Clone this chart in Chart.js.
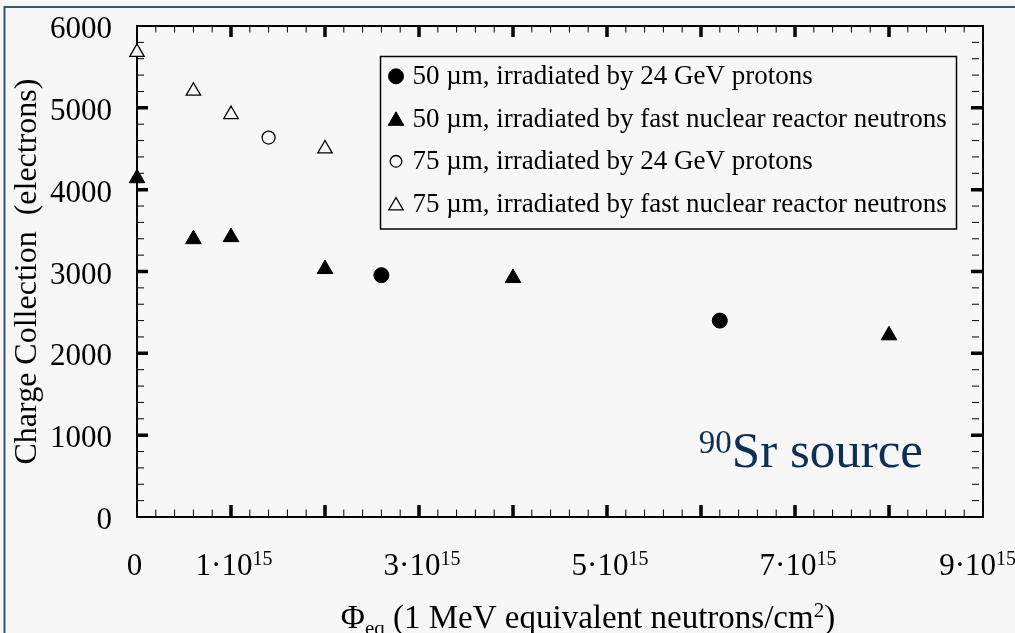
<!DOCTYPE html>
<html>
<head>
<meta charset="utf-8">
<script src="https://cdn.jsdelivr.net/npm/chart.js@4.4.1/dist/chart.umd.min.js"></script>
<style>
  html, body { margin: 0; padding: 0; background: #f7f7f7; }
  #wrap { width: 1015px; height: 633px; }
</style>
</head>
<body>
<div id="wrap"><canvas id="chargeChart" width="1015" height="633"></canvas></div>
<script>
// 50 um, irradiated by 24 GeV protons
const p50Fluence = [2.6e15, 6.2e15];
const p50Charge = [2955, 2400];
// 50 um, fast reactor neutrons
const n50Fluence = [0, 0.6e15, 1e15, 2e15, 4e15, 8e15];
const n50Charge = [4140, 3395, 3420, 3030, 2920, 2220];
// 75 um, irradiated by 24 GeV protons
const p75Fluence = [1.4e15];
const p75Charge = [4637];
// 75 um, fast reactor neutrons
const n75Fluence = [0, 0.6e15, 1e15, 2e15];
const n75Charge = [5680, 5205, 4920, 4500];

const seriesNames = [
  '50 µm, irradiated by 24 GeV protons',
  '50 µm, irradiated by fast nuclear reactor neutrons',
  '75 µm, irradiated by 24 GeV protons',
  '75 µm, irradiated by fast nuclear reactor neutrons'
];

// x tick labels: mantissa of m·10^15
const xLabelValues = [0, 1e15, 3e15, 5e15, 7e15, 9e15];
const xLabelMantissa = ['0', '1', '3', '5', '7', '9'];
const xLabelExp = '15';

const serif = '"Liberation Serif", "Times New Roman", serif';
const bg = '#f7f7f7';

function toPoints(xs, ys) {
    return xs.map((x, i) => ({ x: x, y: ys[i] }));
}

// Tiny marker painter for the legend (same shapes as the datasets)
function marker(ctx, style, filled, r, x, y) {
    ctx.beginPath();
    if (style === 'circle') {
        ctx.arc(x, y, r, 0, Math.PI * 2);
    } else {
        ctx.moveTo(x, y - r);
        ctx.lineTo(x + r * Math.sin(2 * Math.PI / 3), y + r / 2);
        ctx.lineTo(x - r * Math.sin(2 * Math.PI / 3), y + r / 2);
        ctx.closePath();
    }
    ctx.fillStyle = filled ? '#000' : bg;
    ctx.fill();
    ctx.lineWidth = filled ? 1 : 1.3;
    ctx.strokeStyle = '#000';
    ctx.stroke();
}

const framePlugin = {
    id: 'frame',
    beforeDraw(chart) {
        const ctx = chart.ctx;
        ctx.save();
        ctx.fillStyle = bg;
        ctx.fillRect(0, 0, chart.width, chart.height);
        // outer border of the figure
        ctx.strokeStyle = '#34557b';
        ctx.lineWidth = 2;
        ctx.strokeRect(4.5, 7, chart.width + 20, chart.height + 20);
        ctx.restore();
    },
    beforeDatasetsDraw(chart) {
        const ctx = chart.ctx;
        const ax = chart.scales.x, ay = chart.scales.y;
        const { left, right, top, bottom } = chart.chartArea;
        ctx.save();
        ctx.strokeStyle = '#000';
        ctx.lineCap = 'butt';

        // ticks on x (bottom + top), minor every 2e14
        for (let i = 1; i < 45; i++) {
            const px = ax.getPixelForValue(i * 2e14);
            const major = i % 5 === 0;
            ctx.lineWidth = major ? 3.5 : 1;
            ctx.beginPath();
            ctx.moveTo(px, bottom);
            ctx.lineTo(px, bottom - (major ? 12 : 7.5));
            ctx.moveTo(px, top);
            ctx.lineTo(px, top + (major ? 11 : 6.5));
            ctx.stroke();
        }
        // ticks on y (left + right), minor every 200
        for (let i = 1; i < 30; i++) {
            const py = ay.getPixelForValue(i * 200);
            const major = i % 5 === 0;
            ctx.lineWidth = major ? 3.5 : 1;
            ctx.beginPath();
            ctx.moveTo(left, py);
            ctx.lineTo(left + (major ? 11 : 7), py);
            if (major) {
                ctx.moveTo(right - 12, py);
                ctx.lineTo(right + 1, py);
            } else {
                ctx.moveTo(right - 11, py);
                ctx.lineTo(right - 4, py);
            }
            ctx.stroke();
        }

        ctx.lineWidth = 2;
        ctx.strokeRect(left, top, right - left, bottom - top);
        ctx.restore();
    },
    afterDraw(chart) {
        const ctx = chart.ctx;
        const ax = chart.scales.x;
        const { left, right, top, bottom } = chart.chartArea;
        ctx.save();
        ctx.fillStyle = '#000';
        ctx.textBaseline = 'alphabetic';

        // x tick labels with superscript exponent
        const baseFont = '31px ' + serif;
        const supFont = '20px ' + serif;
        xLabelValues.forEach((v, i) => {
            const px = ax.getPixelForValue(v);
            const m = xLabelMantissa[i];
            ctx.font = baseFont;
            if (v === 0) {
                ctx.textAlign = 'center';
                ctx.fillText(m, px - 2.5, bottom + 58);
                return;
            }
            ctx.textAlign = 'left';
            const base = m + '·10';
            const wb = ctx.measureText(base).width;
            ctx.font = supFont;
            const ws = ctx.measureText(xLabelExp).width;
            const w = wb + ws;
            const x0 = Math.min(px - w / 2 + 3, chart.width - w + 1);
            ctx.font = baseFont;
            ctx.fillText(base, x0, bottom + 58);
            ctx.font = supFont;
            ctx.fillText(xLabelExp, x0 + wb, bottom + 48);
        });

        // x axis title: Φeq (1 MeV equivalent neutrons/cm²)
        const tFont = '33px ' + serif, tSmall = '21px ' + serif;
        const parts = [
            ['Φ', tFont, 0],
            ['eq', tSmall, 7],
            [' (1 MeV equivalent neutrons/cm', tFont, 0],
            ['2', tSmall, -11],
            [')', tFont, 0]
        ];
        let tw = 0;
        parts.forEach(p => { ctx.font = p[1]; tw += ctx.measureText(p[0]).width; });
        let tx = (left + right) / 2 + 28 - tw / 2;
        const tBase = chart.height - 5;
        ctx.textAlign = 'left';
        parts.forEach(p => {
            ctx.font = p[1];
            ctx.fillText(p[0], tx, tBase + p[2]);
            tx += ctx.measureText(p[0]).width;
        });

        // legend box
        const lx = 380.5, ly = top + 30.5, lw = right - 26.5 - lx, lh = 172.5;
        ctx.fillStyle = bg;
        ctx.fillRect(lx, ly, lw, lh);
        ctx.lineWidth = 1.5;
        ctx.strokeStyle = '#000';
        ctx.strokeRect(lx, ly, lw, lh);
        const styles = [['circle', true, 7.5], ['triangle', true, 9], ['circle', false, 5.8], ['triangle', false, 8.3]];
        ctx.font = '27px ' + serif;
        seriesNames.forEach((name, i) => {
            const rowBase = ly + 27.8 + i * 42.5;
            const s = styles[i];
            marker(ctx, s[0], s[1], s[2], lx + 15.5, rowBase - 8 + (s[0] === 'triangle' ? 2 : 0));
            ctx.fillStyle = '#000';
            ctx.textAlign = 'left';
            ctx.fillText(name, lx + 32, rowBase);
        });

        // 90Sr source annotation
        ctx.fillStyle = '#0e2e55';
        ctx.textAlign = 'right';
        ctx.font = '51px ' + serif;
        const sx = right - 60;
        ctx.fillText('Sr source', sx, 467);
        const sw = ctx.measureText('Sr source').width;
        ctx.font = '33px ' + serif;
        ctx.fillText('90', sx - sw, 453);
        ctx.restore();
    }
};

const ctx = document.getElementById('chargeChart').getContext('2d');
const chart = new Chart(ctx, {
    type: 'scatter',
    data: {
        datasets: [{
            label: seriesNames[0],
            data: toPoints(p50Fluence, p50Charge),
            pointStyle: 'circle',
            pointRadius: 7.5,
            backgroundColor: '#000',
            borderColor: '#000',
            borderWidth: 1,
            clip: false
        }, {
            label: seriesNames[1],
            data: toPoints(n50Fluence, n50Charge),
            pointStyle: 'triangle',
            pointRadius: 9,
            backgroundColor: '#000',
            borderColor: '#000',
            borderWidth: 1,
            clip: false
        }, {
            label: seriesNames[2],
            data: toPoints(p75Fluence, p75Charge),
            pointStyle: 'circle',
            pointRadius: 6.5,
            backgroundColor: bg,
            borderColor: '#000',
            borderWidth: 1.3,
            clip: false
        }, {
            label: seriesNames[3],
            data: toPoints(n75Fluence, n75Charge),
            pointStyle: 'triangle',
            pointRadius: 8.3,
            backgroundColor: bg,
            borderColor: '#000',
            borderWidth: 1.3,
            clip: false
        }]
    },
    options: {
        responsive: false,
        animation: false,
        events: [],
        layout: { padding: { left: 0, top: 26, right: 32, bottom: 0 } },
        plugins: {
            legend: { display: false },
            tooltip: { enabled: false }
        },
        scales: {
            x: {
                type: 'linear',
                min: 0,
                max: 9e15,
                grid: { display: false },
                border: { display: false },
                ticks: { display: false },
                afterFit: (scale) => {
                    scale.height = 116;
                    scale.paddingLeft = 0;
                    scale.paddingRight = 0;
                }
            },
            y: {
                type: 'linear',
                min: 0,
                max: 6000,
                grid: { display: false, drawTicks: false },
                border: { display: false },
                ticks: {
                    stepSize: 1000,
                    color: '#000',
                    padding: 25,
                    labelOffset: 4,
                    font: { family: serif, size: 31 },
                    callback: (v) => String(v)
                },
                title: {
                    display: true,
                    text: 'Charge Collection  (electrons)',
                    color: '#000',
                    font: { family: serif, size: 32 },
                    padding: { top: 8, bottom: 0 }
                },
                afterFit: (scale) => {
                    scale.width = 137;
                    scale.paddingTop = 0;
                    scale.paddingBottom = 0;
                }
            }
        }
    },
    plugins: [framePlugin]
});
</script>
</body>
</html>
